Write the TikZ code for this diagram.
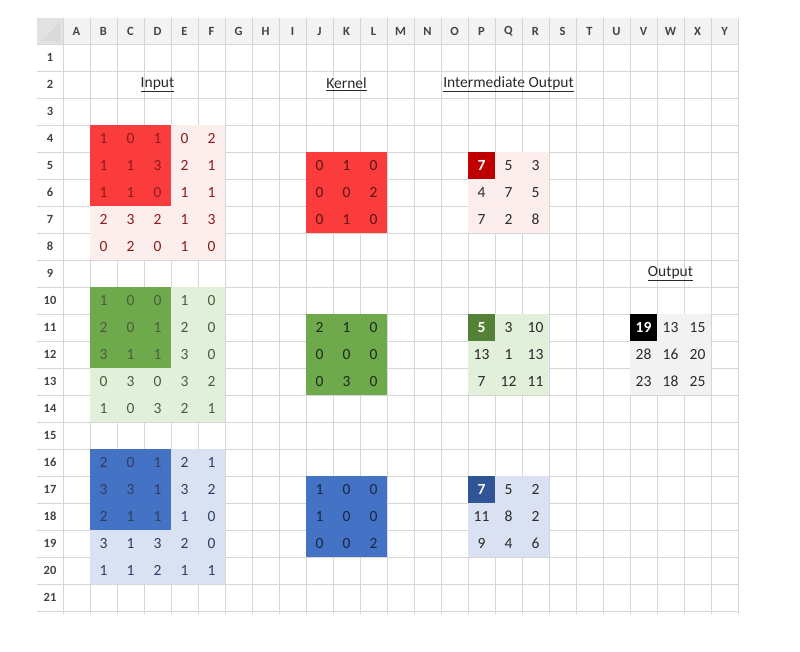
\documentclass[tikz,border=0pt]{standalone}
\usepackage{fontspec}
\setmainfont{Carlito}

\definecolor{gridgray}{HTML}{D6D6D6}
\definecolor{hdrgray}{HTML}{F3F3F3}
\definecolor{cornergray}{HTML}{D9D9D9}
\definecolor{hdrtxt}{HTML}{444444}
\definecolor{redfull}{HTML}{FA3C3C}
\definecolor{redpale}{HTML}{FDEEEE}
\definecolor{reddeep}{HTML}{C00000}
\definecolor{redtxt}{HTML}{8E1B1B}
\definecolor{redktxt}{HTML}{5C1414}
\definecolor{greenfull}{HTML}{6EA94C}
\definecolor{greenpale}{HTML}{E2EFDA}
\definecolor{greendeep}{HTML}{538135}
\definecolor{greentxt}{HTML}{4A5E3C}
\definecolor{greenktxt}{HTML}{1E2A18}
\definecolor{bluefull}{HTML}{4472C4}
\definecolor{bluepale}{HTML}{D9E1F2}
\definecolor{bluedeep}{HTML}{2F5597}
\definecolor{bluetxt}{HTML}{2E3E63}
\definecolor{bluektxt}{HTML}{1A2540}
\definecolor{outpale}{HTML}{F2F2F2}
\definecolor{numtxt}{HTML}{2A2A2A}

\newcommand{\cellfont}{\fontsize{15.5}{18}\selectfont}
% #1 name, #2 column, #3 row, #4 size of the dark square, #5 dark style, #6 pale style, #7 rows
\newcommand{\cellblock}[7]{%
  \foreach \vals [count=\i from 0] in {#7} {
    \foreach \v [count=\j from 0] in \vals {
      \pgfmathtruncatemacro\dk{max(\i,\j)<#4}
      \ifnum\dk=1 \tikzset{cur/.style={#5}}\else\tikzset{cur/.style={#6}}\fi
      \node[cell,cur] (#1-\i-\j) at ({49.5+27*(#2+\j)},{30.5+27*(#3+\i)}) {\v};
    }
  }%
}

\begin{document}
\begin{tikzpicture}[x=1pt,y=-1pt,
  cell/.style={minimum size=27pt,inner sep=0pt,outer sep=0pt,font=\cellfont},
  hdr/.style={inner sep=0pt,font=\fontsize{12.5}{14}\selectfont\bfseries,text=hdrtxt},
  title/.style={inner sep=0pt,font=\cellfont,text=numtxt}]
\useasboundingbox (0,0) rectangle (800,651);

% sheet header and grid
\fill[hdrgray] (37,18) rectangle (738,44);
\fill[hdrgray!85!gray] (37,18) rectangle (63,44);
\fill[cornergray] (42,41) -- (60,41) -- (60,22) -- cycle;
\foreach \k in {0,...,25}
  \draw[gridgray,line width=0.8pt] (63+27*\k,18) -- (63+27*\k,614);
\foreach \r in {0,...,21}
  \draw[gridgray,line width=0.8pt] (37,44+27*\r) -- (738,44+27*\r);
\foreach \c [count=\k] in {A,...,Y}
  \node[hdr] (col-\c) at (49.5+27*\k,31.5) {\c};
\foreach \r in {1,...,21}
  \node[hdr] (row-\r) at (50,30.5+27*\r) {\r};

% titles
\node[title] (t-input) at (157.5,84.5) {\underline{Input}};
\node[title] (t-kernel) at (346.5,84.5) {\underline{Kernel}};
\node[title] (t-inter) at (508.5,84.5) {\underline{Intermediate Output}};
\node[title] (t-output) at (670.5,273.5) {\underline{Output}};

% red channel
\cellblock{inR}{2}{4}{3}{fill=redfull,text=redtxt}{fill=redpale,text=redtxt}
  {{1,0,1,0,2},{1,1,3,2,1},{1,1,0,1,1},{2,3,2,1,3},{0,2,0,1,0}}
\cellblock{kR}{10}{5}{3}{fill=redfull,text=redktxt}{}
  {{0,1,0},{0,0,2},{0,1,0}}
\cellblock{midR}{16}{5}{1}{fill=reddeep,text=white,font=\cellfont\bfseries}{fill=redpale,text=numtxt}
  {{7,5,3},{4,7,5},{7,2,8}}

% green channel
\cellblock{inG}{2}{10}{3}{fill=greenfull,text=greentxt}{fill=greenpale,text=greentxt}
  {{1,0,0,1,0},{2,0,1,2,0},{3,1,1,3,0},{0,3,0,3,2},{1,0,3,2,1}}
\cellblock{kG}{10}{11}{3}{fill=greenfull,text=greenktxt}{}
  {{2,1,0},{0,0,0},{0,3,0}}
\cellblock{midG}{16}{11}{1}{fill=greendeep,text=white,font=\cellfont\bfseries}{fill=greenpale,text=numtxt}
  {{5,3,10},{13,1,13},{7,12,11}}

% blue channel
\cellblock{inB}{2}{16}{3}{fill=bluefull,text=bluetxt}{fill=bluepale,text=bluetxt}
  {{2,0,1,2,1},{3,3,1,3,2},{2,1,1,1,0},{3,1,3,2,0},{1,1,2,1,1}}
\cellblock{kB}{10}{17}{3}{fill=bluefull,text=bluektxt}{}
  {{1,0,0},{1,0,0},{0,0,2}}
\cellblock{midB}{16}{17}{1}{fill=bluedeep,text=white,font=\cellfont\bfseries}{fill=bluepale,text=numtxt}
  {{7,5,2},{11,8,2},{9,4,6}}

% sum of the three
\cellblock{out}{22}{11}{1}{fill=black,text=white,font=\cellfont\bfseries}{fill=outpale,text=numtxt}
  {{19,13,15},{28,16,20},{23,18,25}}
\end{tikzpicture}
\end{document}
